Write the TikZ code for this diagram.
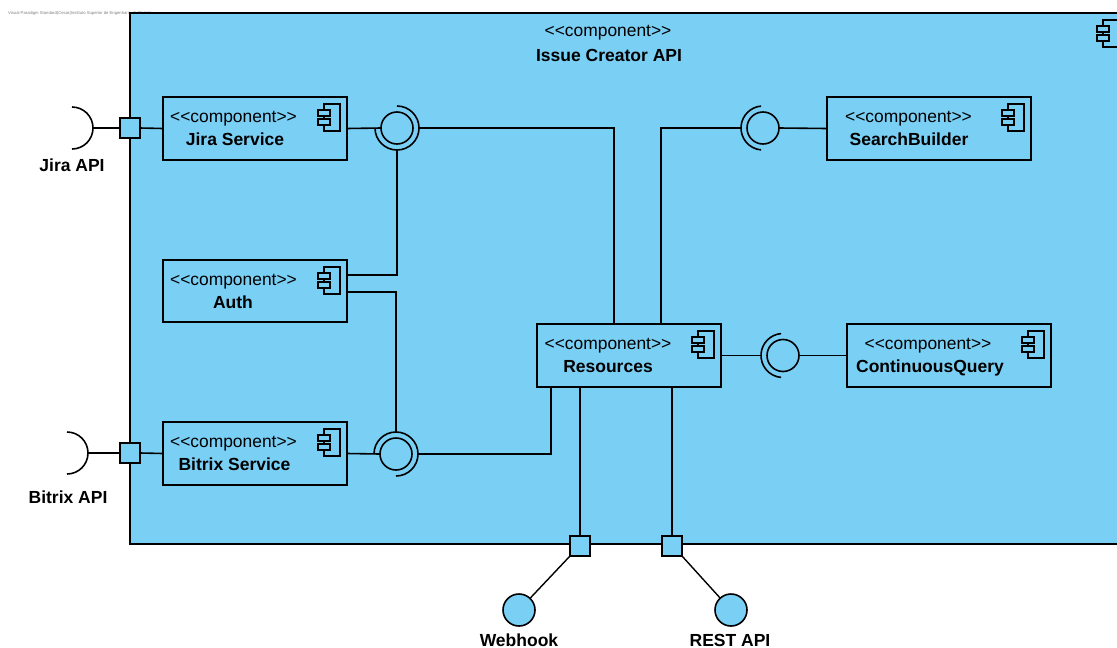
\documentclass[tikz,border=0pt]{standalone}
\usepackage{fontspec}
\setmainfont{Liberation Sans}
\usetikzlibrary{calc}
\definecolor{cfill}{RGB}{122,207,245}
\newcommand{\stereotxt}{<{}<component>{}>}
\begin{document}
\begin{tikzpicture}[x=1pt,y=-1pt,
  ln/.style={line width=1.6pt, draw=black},
  thinln/.style={line width=1.4pt, draw=black},
  box/.style={draw, line width=1.6pt, fill=cfill, rectangle, inner sep=0pt, outer sep=0pt},
  stereo/.style={font=\fontsize{17.4}{20}\selectfont, inner sep=0pt, anchor=base},
  cname/.style={font=\fontsize{17.5}{20}\selectfont\bfseries, inner sep=0pt, anchor=base},
  port/.style={draw, line width=1.4pt, fill=cfill, rectangle, minimum size=20pt, inner sep=0pt, outer sep=0pt},
  ball/.style={draw, circle, line width=1.6pt, fill=cfill, minimum size=32pt, inner sep=0pt, outer sep=0pt},
  iconbox/.style={draw, line width=1.3pt, fill=cfill},
  compicon/.pic={
    \draw[iconbox] (0,0) rectangle (16,27);
    \draw[iconbox] (-6,6) rectangle (6,12);
    \draw[iconbox] (-6,15) rectangle (6,21);
  }
]
\clip (0,0) rectangle (1117,648);
\fill[white] (0,0) rectangle (1117,648);

% watermark
\node[anchor=west, inner sep=0pt, text=gray, font=\fontsize{4.2}{5}\selectfont] (wm) at (8,13) {Visual Paradigm Standard(Cesar(Instituto Superior de Engenharia do Porto))};

% outer component
\node[box, anchor=north west, minimum width=1010pt, minimum height=531pt] (outer) at (130,13) {};
\node[stereo] (outerst) at (608,36) {\stereotxt};
\node[cname] (outername) at (609,61) {Issue Creator API};
\pic at (1103,20) {compicon};

% inner components
\node[box, minimum width=184pt, minimum height=63pt] (jira) at (255,128.5) {};
\node[box, minimum width=184pt, minimum height=62pt] (auth) at (255,291) {};
\node[box, minimum width=184pt, minimum height=63pt] (bitrix) at (255,453.5) {};
\node[box, minimum width=204pt, minimum height=63pt] (search) at (929,128.5) {};
\node[box, minimum width=184pt, minimum height=63pt] (res) at (629,355.5) {};
\node[box, minimum width=204pt, minimum height=63pt] (cq) at (949,355.5) {};

\foreach \b in {jira,auth,bitrix,search,res,cq}{
  \pic at ($(\b.north east)+(-23,7)$) {compicon};
}

\node[stereo] (jirast) at (233.5,122) {\stereotxt};
\node[cname] (jiraname) at (235,145) {Jira Service};
\node[stereo] (authst) at (233.5,285) {\stereotxt};
\node[cname] (authname) at (233,308) {Auth};
\node[stereo] (bitrixst) at (233.5,447) {\stereotxt};
\node[cname] (bitrixname) at (234.5,470) {Bitrix Service};
\node[stereo] (searchst) at (908.5,122) {\stereotxt};
\node[cname] (searchname) at (909,145) {SearchBuilder};
\node[stereo] (resst) at (608,349) {\stereotxt};
\node[cname] (resname) at (608,372) {Resources};
\node[stereo] (cqst) at (928,349) {\stereotxt};
\node[cname] (cqname) at (930,372) {ContinuousQuery};

% connection points on boxes
\coordinate (resT1) at ($(res.north west)+(77,0)$);
\coordinate (resT2) at ($(res.north west)+(124,0)$);
\coordinate (resB1) at ($(res.south west)+(14,0)$);
\coordinate (resB2) at ($(res.south west)+(43,0)$);
\coordinate (resB3) at ($(res.south west)+(135,0)$);
\coordinate (authR1) at ($(auth.north east)+(0,15)$);
\coordinate (authR2) at ($(auth.north east)+(0,32)$);

% Jira joint
\node[ball] (jball) at (397,128) {};
\draw[ln] ($(jball)+(-90:22)$) arc[start angle=-90, end angle=180, radius=22];
\coordinate (jsR) at ($(jball)+(22,0)$);
\coordinate (jsB) at ($(jball)+(0,22)$);
\draw[ln] (jira.east) -- (jball.west);
\draw[ln] (jsR) -| (resT1);
\draw[ln] (jsB) |- (authR1);

% Bitrix joint
\node[ball] (bball) at (396,454) {};
\draw[ln] ($(bball)+(-180:22)$) arc[start angle=-180, end angle=90, radius=22];
\coordinate (bsR) at ($(bball)+(22,0)$);
\coordinate (bsT) at ($(bball)+(0,-22)$);
\draw[ln] (bitrix.east) -- (bball.west);
\draw[ln] (bsR) -| (resB1);
\draw[ln] (bsT) |- (authR2);

% SearchBuilder joint
\node[ball] (sball) at (763,128) {};
\draw[ln] ($(sball)+(95:22)$) arc[start angle=95, end angle=265, radius=22];
\coordinate (ssL) at ($(sball)+(-22,0)$);
\draw[ln] (sball.east) -- (search.west);
\draw[ln] (ssL) -| (resT2);

% ContinuousQuery joint
\node[ball] (cball) at (783,355.5) {};
\draw[ln] ($(cball)+(95:22)$) arc[start angle=95, end angle=265, radius=22];
\coordinate (csL) at ($(cball)+(-22,0)$);
\draw[ln] (res.east) -- (csL);
\draw[ln] (cball.east) -- (cq.west);

% ports
\node[port] (pjira) at (130,128) {};
\node[port] (pbitrix) at (130,453) {};
\node[port] (pweb) at (580,546) {};
\node[port] (prest) at (672,546) {};
\draw[ln] (pjira.east) -- (jira.west);
\draw[ln] (pbitrix.east) -- (bitrix.west);
\draw[ln] (resB2) -- (pweb.north);
\draw[ln] (resB3) -- (prest.north);

% required interfaces outside
\coordinate (jreq) at (72,128);
\coordinate (jreqA) at (93,128);
\draw[ln] ($(jreq)+(-90:21)$) arc[start angle=-90, end angle=90, radius=21];
\draw[ln] (jreqA) -- (pjira.west);
\node[cname] (jiralbl) at (72,171) {Jira API};

\coordinate (breq) at (67,453);
\coordinate (breqA) at (88,453);
\draw[ln] ($(breq)+(-90:21)$) arc[start angle=-90, end angle=90, radius=21];
\draw[ln] (breqA) -- (pbitrix.west);
\node[cname] (bitrixlbl) at (68,503) {Bitrix API};

% provided interfaces outside
\node[ball] (wball) at (519,610) {};
\node[ball] (rball) at (731,610) {};
\draw[thinln] (pweb.south west) -- (wball);
\draw[thinln] (prest.south east) -- (rball);
\node[cname] (weblbl) at (519,646) {Webhook};
\node[cname] (restlbl) at (730,646) {REST API};
\end{tikzpicture}
\end{document}
